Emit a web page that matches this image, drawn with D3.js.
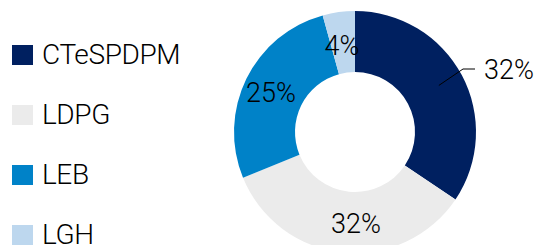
<!DOCTYPE html>
<html><head><meta charset="utf-8">
<script src="https://cdn.jsdelivr.net/npm/d3@7"></script>
<style>body{margin:0;background:#fff}svg{display:block}text{font-family:Roboto,sans-serif;font-weight:300;fill:#000}</style>
</head><body>
<svg id="c" width="534" height="245"></svg>
<script>
const categories = ["CTeSPDPM", "LDPG", "LEB", "LGH"];
const values = [32, 32, 25, 4];
const labels = ["32%", "32%", "25%", "4%"];
const colors = ["#002060", "#EBEBEB", "#0082C8", "#BDD7EE"];

const svg = d3.select("#c");
const cx = 355, cy = 132, rOut = 121, rIn = 60;
const pie = d3.pie().sort(null).value(d => d)(values);
const arc = d3.arc().innerRadius(rIn).outerRadius(rOut);
const g = svg.append("g").attr("transform", `translate(${cx},${cy})`);
g.selectAll("path").data(pie).join("path").attr("d", arc).attr("fill", (d, i) => colors[i]);

// label positions (relative to centre)
const labelPos = [[129, -53, "start"], [1, 101, "middle"], [-84, -30, "middle"], [-13, -77, "middle"]];
g.selectAll("text.lbl").data(pie).join("text").attr("class", "lbl")
  .attr("x", (d, i) => labelPos[i][0]).attr("y", (d, i) => labelPos[i][1])
  .attr("text-anchor", (d, i) => labelPos[i][2])
  .style("font-size", "27px").text((d, i) => labels[i]);

// leader line for first slice
const p0 = arc.centroid(pie[0]);
g.append("path").attr("d", `M${p0[0]+4},${p0[1]-4} L${108},${-63} L${120},${-63}`)
  .attr("fill", "none").attr("stroke", "#000").attr("stroke-width", 1);

// legend
const lg = svg.append("g");
const rows = lg.selectAll("g").data(categories).join("g")
  .attr("transform", (d, i) => `translate(12,${45 + i * 60})`);
rows.append("rect").attr("width", 21).attr("height", 20).attr("fill", (d, i) => colors[i]);
rows.append("text").attr("x", 30).attr("y", 19).style("font-size", "28px").style("letter-spacing", "-0.4px").text(d => d);
</script>
</body></html>
